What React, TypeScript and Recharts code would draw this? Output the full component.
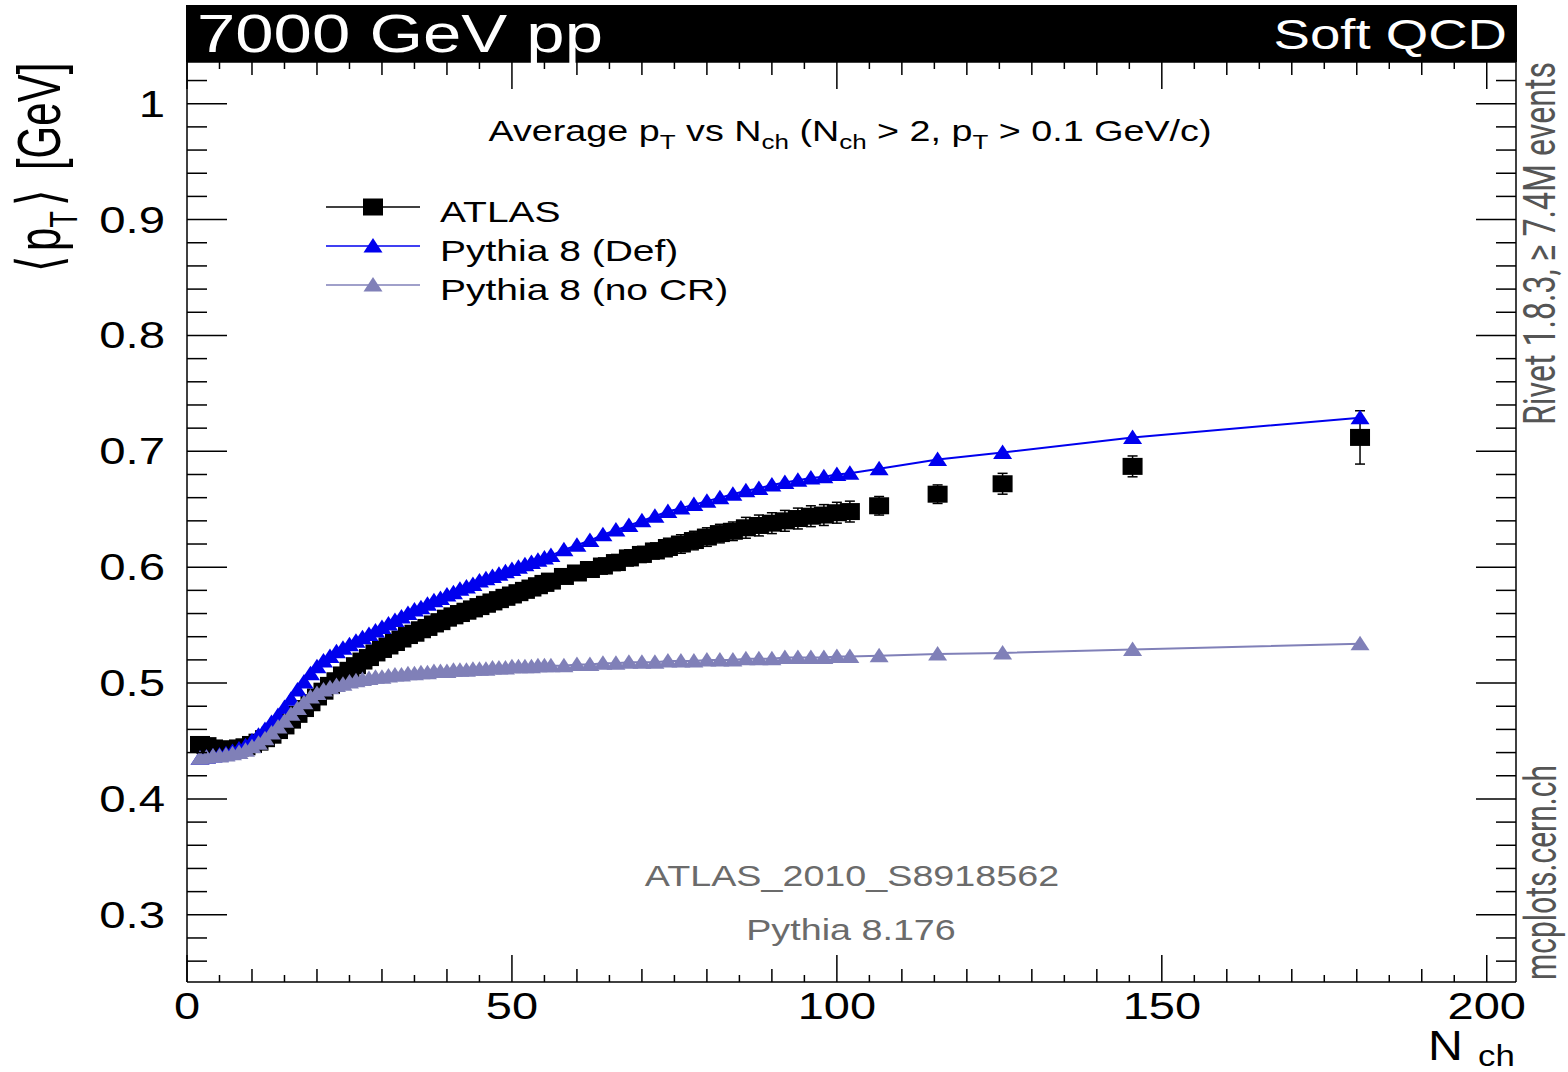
import React from "react";
import { ComposedChart, Line, XAxis, YAxis, ErrorBar } from "recharts";

// charged multiplicity bins (bin centres)
const nch = [
  2, 3, 4, 5, 6, 7, 8, 9,
  10, 11, 12, 13, 14, 15, 16, 17, 18, 19,
  20, 21, 22, 23, 24, 25, 26, 27, 28, 29,
  30, 31, 32, 33, 34, 35, 36, 37, 38, 39,
  40, 41, 42, 43, 44, 45, 46, 47, 48, 49,
  50, 51, 52, 53, 54, 55, 56,
  58, 60, 62, 64, 66, 68, 70, 72, 74, 76, 78, 80, 82, 84, 86, 88, 90, 92, 94, 96, 98, 100, 102,
  106.5, 115.5, 125.5, 145.5, 180.5,
];

const atlas = [
  0.447, 0.446, 0.444, 0.443, 0.443, 0.443, 0.444, 0.445,
  0.447, 0.449, 0.452, 0.455, 0.459, 0.463, 0.468, 0.473, 0.478, 0.483,
  0.488, 0.493, 0.498, 0.502, 0.507, 0.511, 0.515, 0.519, 0.522, 0.526,
  0.529, 0.532, 0.535, 0.538, 0.541, 0.543, 0.546, 0.548, 0.551, 0.553,
  0.556, 0.558, 0.56, 0.562, 0.564, 0.566, 0.568, 0.57, 0.572, 0.574,
  0.576, 0.578, 0.58, 0.582, 0.584, 0.586, 0.588,
  0.592, 0.595, 0.598, 0.601, 0.604, 0.608, 0.611, 0.614, 0.617, 0.62, 0.623, 0.626, 0.629, 0.631, 0.634, 0.636, 0.638, 0.64, 0.642, 0.644, 0.645, 0.647, 0.648,
  0.653, 0.663, 0.672, 0.687, 0.712,
];

const atlasErr = [
  0.004, 0.004, 0.004, 0.004, 0.004, 0.004, 0.004, 0.004,
  0.004, 0.004, 0.004, 0.004, 0.004, 0.004, 0.004, 0.004, 0.004, 0.004,
  0.004, 0.004, 0.004, 0.004, 0.004, 0.004, 0.004, 0.004, 0.004, 0.004,
  0.005, 0.005, 0.005, 0.005, 0.005, 0.005, 0.005, 0.005, 0.005, 0.005,
  0.005, 0.005, 0.005, 0.005, 0.005, 0.005, 0.005, 0.005, 0.005, 0.005,
  0.006, 0.006, 0.006, 0.006, 0.006, 0.006, 0.006,
  0.006, 0.006, 0.006, 0.007, 0.007, 0.007, 0.007, 0.007, 0.008, 0.008, 0.008, 0.008, 0.008, 0.008, 0.009, 0.009, 0.009, 0.009, 0.009, 0.009, 0.009, 0.009, 0.009,
  0.008, 0.008, 0.009, 0.009, 0.023,
];

const pythiaDef = [
  0.435, 0.436, 0.437, 0.438, 0.439, 0.441, 0.443, 0.446,
  0.45, 0.455, 0.46, 0.466, 0.472, 0.479, 0.486, 0.494, 0.501, 0.508,
  0.514, 0.519, 0.523, 0.527, 0.53, 0.533, 0.536, 0.539, 0.542, 0.545,
  0.548, 0.551, 0.554, 0.557, 0.56, 0.563, 0.565, 0.568, 0.571, 0.573,
  0.576, 0.578, 0.581, 0.583, 0.585, 0.588, 0.59, 0.592, 0.594, 0.596,
  0.598, 0.6, 0.602, 0.604, 0.606, 0.608, 0.61,
  0.615, 0.619, 0.623, 0.628, 0.632, 0.636, 0.64, 0.644, 0.648, 0.651, 0.654, 0.657, 0.66, 0.663, 0.666, 0.668, 0.671, 0.673, 0.675, 0.677, 0.678, 0.68, 0.681,
  0.685, 0.693, 0.699, 0.712, 0.729,
];

const pythiaNoCR = [
  0.435, 0.436, 0.437, 0.437, 0.438, 0.439, 0.44, 0.442,
  0.445, 0.448, 0.452, 0.457, 0.462, 0.467, 0.473, 0.478, 0.483, 0.488,
  0.491, 0.494, 0.496, 0.498, 0.499, 0.501, 0.502, 0.503, 0.504, 0.505,
  0.505, 0.506, 0.507, 0.507, 0.508, 0.508, 0.509, 0.509, 0.51, 0.51,
  0.51, 0.511, 0.511, 0.511, 0.512, 0.512, 0.512, 0.513, 0.513, 0.513,
  0.514, 0.514, 0.514, 0.514, 0.515, 0.515, 0.515,
  0.515, 0.516, 0.516, 0.517, 0.517, 0.518, 0.518, 0.518, 0.519, 0.519, 0.519, 0.52, 0.52, 0.52, 0.521, 0.521, 0.521, 0.522, 0.522, 0.522, 0.522, 0.523, 0.523,
  0.5235, 0.525, 0.526, 0.529, 0.534,
];

const xTicks = [
  0, 5, 10, 15, 20, 25, 30, 35, 40, 45, 50, 55, 60, 65, 70, 75, 80, 85, 90, 95, 100,
  105, 110, 115, 120, 125, 130, 135, 140, 145, 150, 155, 160, 165, 170, 175, 180, 185, 190, 195, 200,
];
const yTicks = [
  0.26, 0.28, 0.3, 0.32, 0.34, 0.36, 0.38, 0.4, 0.42, 0.44, 0.46, 0.48, 0.5, 0.52, 0.54, 0.56, 0.58,
  0.6, 0.62, 0.64, 0.66, 0.68, 0.7, 0.72, 0.74, 0.76, 0.78, 0.8, 0.82, 0.84, 0.86, 0.88, 0.9, 0.92,
  0.94, 0.96, 0.98, 1, 1.02,
];

const rows = nch.map((n, i) => ({
  nch: n,
  atlas: atlas[i],
  atlasErr: atlasErr[i],
  def: pythiaDef[i],
  nocr: pythiaNoCR[i],
}));

const FONT = "'Liberation Sans', Arial, Helvetica, sans-serif";
const BLUE = "#0000ee";
const LAVENDER = "#8080b8";

const xLen = (v: number) => (v % 50 === 0 ? 27 : v % 10 === 0 ? 13 : 7);
const yMajor = (v: number) => Math.abs(v * 10 - Math.round(v * 10)) < 1e-6;

function BottomTick({ x, y, payload }: any) {
  const v = payload.value;
  return (
    <g>
      <line x1={x} x2={x} y1={y} y2={y - xLen(v)} stroke="#000" strokeWidth={1.5} />
      {v % 50 === 0 && (
        <text transform={`translate(${x},${y + 37}) scale(1.27,1)`} textAnchor="middle" fontSize={37} fontFamily={FONT} fill="#000">
          {v}
        </text>
      )}
    </g>
  );
}

function TopTick({ x, y, payload }: any) {
  return <line x1={x} x2={x} y1={y} y2={y + xLen(payload.value)} stroke="#000" strokeWidth={1.5} />;
}

function LeftTick({ x, y, payload }: any) {
  const v = payload.value;
  const major = yMajor(v);
  return (
    <g>
      <line x1={x} x2={x + (major ? 40 : 20)} y1={y} y2={y} stroke="#000" strokeWidth={1.5} />
      {major && (
        <text transform={`translate(${x - 22},${y + 13}) scale(1.28,1)`} textAnchor="end" fontSize={37} fontFamily={FONT} fill="#000">
          {v === 1 ? "1" : v.toFixed(1)}
        </text>
      )}
    </g>
  );
}

function RightTick({ x, y, payload }: any) {
  const major = yMajor(payload.value);
  return <line x1={x} x2={x - (major ? 40 : 20)} y1={y} y2={y} stroke="#000" strokeWidth={1.5} />;
}

function triangle(cx: number, cy: number, color: string, key?: any) {
  return <path key={key} d={`M${cx},${cy - 8} L${cx + 9.5},${cy + 6.5} L${cx - 9.5},${cy + 6.5} Z`} fill={color} />;
}

function square(cx: number, cy: number, key?: any) {
  return <rect key={key} x={cx - 10} y={cy - 8.5} width={20} height={17} fill="#000" />;
}

const legendItems = [
  { name: "ATLAS", color: "#000", marker: "square" },
  { name: "Pythia 8 (Def)", color: BLUE, marker: "triangle" },
  { name: "Pythia 8 (no CR)", color: LAVENDER, marker: "triangle" },
];

function Overlay() {
  return (
    <svg width={1568} height={1072} style={{ position: "absolute", left: 0, top: 0, pointerEvents: "none" }} fontFamily={FONT}>
      <rect x={186} y={5} width={1331} height={57} fill="#000" />
      <text transform="translate(197,52) scale(1.3,1)" fill="#fff" fontSize={53}>7000 GeV pp</text>
      <text transform="translate(1507,49) scale(1.3,1)" textAnchor="end" fill="#fff" fontSize={42}>Soft QCD</text>

      <text transform="translate(850,141) scale(1.3,1)" textAnchor="middle" fontSize={29} fill="#000">
        Average p<tspan fontSize={20} dy={8}>T</tspan>
        <tspan dy={-8}> vs N</tspan>
        <tspan fontSize={20} dy={8}>ch</tspan>
        <tspan dy={-8}> (N</tspan>
        <tspan fontSize={20} dy={8}>ch</tspan>
        <tspan dy={-8}> {">"} 2, p</tspan>
        <tspan fontSize={20} dy={8}>T</tspan>
        <tspan dy={-8}> {">"} 0.1 GeV/c)</tspan>
      </text>

      {legendItems.map((it, i) => {
        const y = 207 + i * 39;
        return (
          <g key={it.name}>
            <line x1={326} x2={420} y1={y} y2={y} stroke={it.color} strokeWidth={1.5} />
            {it.marker === "square" ? square(373, y) : triangle(373, y, it.color)}
            <text transform={`translate(440,${y + 15}) scale(1.3,1)`} fontSize={30} fill="#000">{it.name}</text>
          </g>
        );
      })}

      <text transform="translate(852,886) scale(1.3,1)" textAnchor="middle" fontSize={29} fill="#6b6b6b">ATLAS_2010_S8918562</text>
      <text transform="translate(851,940) scale(1.3,1)" textAnchor="middle" fontSize={29} fill="#6b6b6b">Pythia 8.176</text>

      <text transform="translate(60,272) scale(1.45,1) rotate(-90)" fontSize={42} fill="#000">
        ⟨<tspan dx={5}>p</tspan>
        <tspan fontSize={27} dy={12}>T</tspan>
        <tspan dy={-12} dx={5}>⟩</tspan>
        <tspan dx={20}>[GeV]</tspan>
      </text>

      <text transform="translate(1428,1060) scale(1.15,1)" fontSize={42} fill="#000">N</text>
      <text transform="translate(1478,1066) scale(1.2,1)" fontSize={29} fill="#000">ch</text>

      <text transform="translate(1555,425) scale(1.3,1) rotate(-90)" fontFamily="Roboto" fontSize={34} fill="#555" textLength={363} lengthAdjust="spacingAndGlyphs">
        Rivet 1.8.3, ≥ 7.4M events
      </text>
      <text transform="translate(1556,980) scale(1.3,1) rotate(-90)" fontFamily="Roboto" fontSize={34} fill="#555" textLength={215} lengthAdjust="spacingAndGlyphs">
        mcplots.cern.ch
      </text>
    </svg>
  );
}

export default function App() {
  return (
    <div style={{ position: "absolute", left: 0, top: 0, width: 1568, height: 1072, background: "#fff" }}>
      <ComposedChart width={1568} height={1072} data={rows} margin={{ top: 61, right: 51, bottom: 89, left: 186 }}>
        <XAxis xAxisId="b" dataKey="nch" type="number" domain={[0, 204.5]} allowDataOverflow ticks={xTicks} interval={0}
          height={1} tickSize={0} tickMargin={0} tickLine={false} tick={<BottomTick />} axisLine={{ stroke: "#000", strokeWidth: 1.5 }} />
        <XAxis xAxisId="t" orientation="top" dataKey="nch" type="number" domain={[0, 204.5]} allowDataOverflow ticks={xTicks} interval={0}
          height={1} tickSize={0} tickMargin={0} tickLine={false} tick={<TopTick />} axisLine={{ stroke: "#000", strokeWidth: 1.5 }} />
        <YAxis yAxisId="l" type="number" domain={[0.242, 1.036]} allowDataOverflow ticks={yTicks} interval={0}
          width={1} tickSize={0} tickMargin={0} tickLine={false} tick={<LeftTick />} axisLine={{ stroke: "#000", strokeWidth: 1.5 }} />
        <YAxis yAxisId="r" orientation="right" type="number" domain={[0.242, 1.036]} allowDataOverflow ticks={yTicks} interval={0}
          width={1} tickSize={0} tickMargin={0} tickLine={false} tick={<RightTick />} axisLine={{ stroke: "#000", strokeWidth: 1.5 }} />

        <Line xAxisId="b" yAxisId="l" dataKey="atlas" name="ATLAS" stroke="none" isAnimationActive={false} activeDot={false}
          dot={(p: any) => square(p.cx, p.cy, p.index)}>
          <ErrorBar dataKey="atlasErr" direction="y" width={5} stroke="#000" strokeWidth={1.5} />
        </Line>
        <Line xAxisId="b" yAxisId="l" dataKey="def" name="Pythia 8 (Def)" stroke={BLUE} strokeWidth={2} isAnimationActive={false} activeDot={false}
          dot={(p: any) => triangle(p.cx, p.cy, BLUE, p.index)} />
        <Line xAxisId="b" yAxisId="l" dataKey="nocr" name="Pythia 8 (no CR)" stroke={LAVENDER} strokeWidth={2} isAnimationActive={false} activeDot={false}
          dot={(p: any) => triangle(p.cx, p.cy, LAVENDER, p.index)} />
      </ComposedChart>
      <Overlay />
    </div>
  );
}
